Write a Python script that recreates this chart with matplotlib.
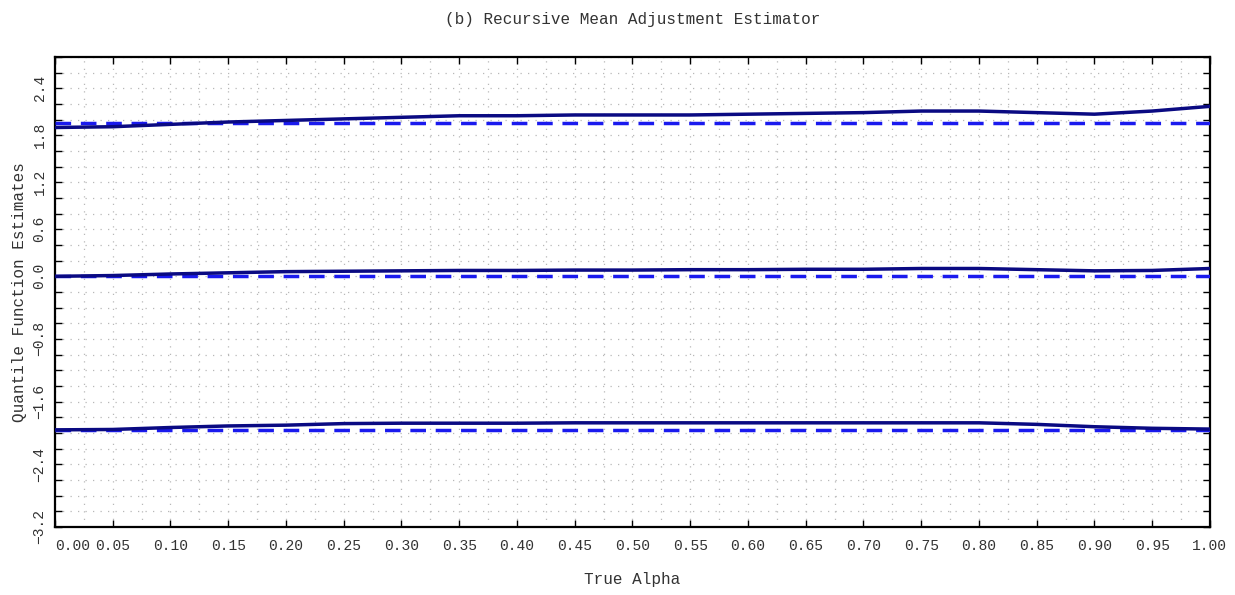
"""
(b) Recursive Mean Adjustment Estimator: quantile function estimates vs true alpha.
Solid = estimates, dashed = true quantiles.
"""

import matplotlib.pyplot as plt
from matplotlib.ticker import FixedLocator, FixedFormatter, MultipleLocator

plt.rcParams['font.family'] = ['Liberation Mono', 'DejaVu Sans Mono']
plt.rcParams['axes.unicode_minus'] = True

NAVY = '#0a0a82'
BLUE = '#1a1aee'
GRID = '#b8b8b8'

# ── Data ──────────────────────────────────────────────────────────────────────
alpha = [0.00, 0.05, 0.10, 0.15, 0.20, 0.25, 0.30, 0.35, 0.40, 0.45, 0.50,
         0.55, 0.60, 0.65, 0.70, 0.75, 0.80, 0.85, 0.90, 0.95, 1.00]

upper_est  = [1.90, 1.91, 1.94, 1.97, 1.99, 2.01, 2.03, 2.05, 2.05, 2.06, 2.06,
              2.06, 2.07, 2.08, 2.09, 2.11, 2.11, 2.09, 2.07, 2.11, 2.17]
middle_est = [0.00, 0.01, 0.03, 0.045, 0.06, 0.065, 0.07, 0.075, 0.075, 0.08, 0.08,
              0.085, 0.085, 0.09, 0.09, 0.10, 0.10, 0.085, 0.07, 0.075, 0.10]
lower_est  = [-1.96, -1.955, -1.93, -1.91, -1.90, -1.88, -1.875, -1.875, -1.875, -1.87, -1.87,
              -1.87, -1.87, -1.87, -1.87, -1.87, -1.87, -1.89, -1.92, -1.94, -1.95]

true_q = [1.96, 0.0, -1.96]

ytick_labels = [2.4, 1.8, 1.2, 0.6, 0.0, -0.8, -1.6, -2.4, -3.2]
xtick_vals = [0.00, 0.05, 0.10, 0.15, 0.20, 0.25, 0.30, 0.35, 0.40, 0.45, 0.50,
              0.55, 0.60, 0.65, 0.70, 0.75, 0.80, 0.85, 0.90, 0.95, 1.00]

# ── Figure ────────────────────────────────────────────────────────────────────
fig = plt.figure(figsize=(12.35, 5.95), dpi=100)
ax = fig.add_axes([0.0445, 0.1143, 0.9352, 0.7899])

for q in true_q:
    ax.plot(alpha, [q] * len(alpha), color=BLUE, linewidth=2.5,
            linestyle=(0, (4.5, 2.8)), zorder=3)
for est in (upper_est, middle_est, lower_est):
    ax.plot(alpha, est, color=NAVY, linewidth=2.5, zorder=4)

ax.set_xlim(0, 1)
ax.set_ylim(-3.2, 2.8)

# y ticks every 0.2, labels only at a few values
yticks = [round(-3.2 + 0.2 * i, 1) for i in range(31)]
ylabs = [('%.1f' % v).replace('-', '\u2212') if any(abs(v - t) < 1e-9 for t in ytick_labels) else ''
         for v in yticks]
ax.yaxis.set_major_locator(FixedLocator(yticks))
ax.yaxis.set_major_formatter(FixedFormatter(ylabs))

ax.set_xticks(xtick_vals)
ax.set_xticklabels(['%.2f' % v for v in xtick_vals])
ax.xaxis.set_minor_locator(MultipleLocator(0.025))

ax.tick_params(axis='both', which='major', direction='in', length=5, width=1,
               top=True, right=True, labelsize=10.5, labelcolor='#333333')
ax.tick_params(axis='x', which='minor', length=0)
ax.tick_params(axis='x', pad=9)
ax.tick_params(axis='y', pad=6)
for lab in ax.get_yticklabels():
    lab.set_rotation(90)
    lab.set_va('center')
ax.get_xticklabels()[0].set_ha('left')

for sp in ax.spines.values():
    sp.set_linewidth(1.6)

ax.grid(True, which='major', axis='y', color=GRID, linestyle=(0, (1, 5)), linewidth=0.9)
ax.grid(True, which='both', axis='x', color=GRID, linestyle=(0, (1, 5)), linewidth=0.9)
ax.set_axisbelow(True)

ax.set_xlabel('True Alpha', fontsize=11.5, labelpad=13, color='#333333')
ax.set_ylabel('Quantile Function Estimates', fontsize=11.5, labelpad=4, color='#333333')
ax.set_title('(b) Recursive Mean Adjustment Estimator', fontsize=11.5, pad=24, color='#333333')

fig.savefig('out.png', dpi=100)
